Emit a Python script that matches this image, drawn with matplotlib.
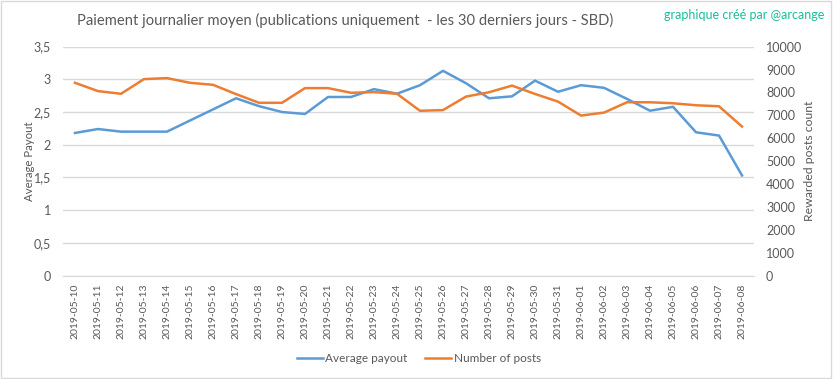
import matplotlib
matplotlib.use("Agg")
import matplotlib.pyplot as plt
from matplotlib.ticker import FuncFormatter, FixedLocator
from matplotlib.lines import Line2D

dates = ["2019-05-10", "2019-05-11", "2019-05-12", "2019-05-13", "2019-05-14",
         "2019-05-15", "2019-05-16", "2019-05-17", "2019-05-18", "2019-05-19",
         "2019-05-20", "2019-05-21", "2019-05-22", "2019-05-23", "2019-05-24",
         "2019-05-25", "2019-05-26", "2019-05-27", "2019-05-28", "2019-05-29",
         "2019-05-30", "2019-05-31", "2019-06-01", "2019-06-02", "2019-06-03",
         "2019-06-04", "2019-06-05", "2019-06-06", "2019-06-07", "2019-06-08"]

avg_payout = [2.18, 2.24, 2.20, 2.20, 2.20, 2.37, 2.54, 2.71, 2.59, 2.50,
              2.47, 2.73, 2.73, 2.85, 2.78, 2.91, 3.13, 2.94, 2.71, 2.74,
              2.98, 2.81, 2.91, 2.87, 2.70, 2.52, 2.58, 2.19, 2.14, 1.53]

num_posts = [8419, 8057, 7939, 8581, 8624, 8419, 8332, 7926, 7546, 7546,
             8188, 8188, 7983, 8013, 7939, 7197, 7227, 7817, 8006, 8297,
             7933, 7598, 6987, 7118, 7569, 7569, 7525, 7438, 7394, 6507]

left_ticks = [0, 0.5, 1, 1.5, 2, 2.5, 3, 3.5]
right_ticks = [0, 1000, 2000, 3000, 4000, 5000, 6000, 7000, 8000, 9000, 10000]

BLUE = "#5B9BD5"
ORANGE = "#ED7D31"
TXT = "#595959"
GRID = "#D9D9D9"

plt.rcParams['font.family'] = ['Lato', 'DejaVu Sans']

fig = plt.figure(figsize=(8.33, 3.79), dpi=100)
fig.patch.set_facecolor("white")
ax = fig.add_axes([0.0762, 0.273, 0.8284, 0.604])
ax2 = ax.twinx()

x = list(range(len(dates)))
ax.plot(x, avg_payout, color=BLUE, lw=1.8, solid_joinstyle="round", zorder=3)
ax2.plot(x, num_posts, color=ORANGE, lw=1.8, solid_joinstyle="round", zorder=3)

ax.set_xlim(-0.5, len(dates) - 0.5)
ax.set_ylim(0, 3.5)
ax2.set_ylim(0, 10000)
ax.yaxis.set_major_locator(FixedLocator(left_ticks))
ax2.yaxis.set_major_locator(FixedLocator(right_ticks))
ax.yaxis.set_major_formatter(FuncFormatter(lambda v, p: ("%g" % v).replace(".", ",")))
ax2.yaxis.set_major_formatter(FuncFormatter(lambda v, p: "%d" % v))

ax.set_xticks(x)
ax.set_xticklabels(dates, rotation=90, fontsize=7.5, color=TXT)
ax.grid(axis="y", color=GRID, lw=1)
ax.set_axisbelow(True)
for a in (ax, ax2):
    for s in a.spines.values():
        s.set_visible(False)
    a.tick_params(length=0)
ax.spines["bottom"].set_visible(True)
ax.spines["bottom"].set_color(GRID)
ax.tick_params(axis="y", labelsize=9, labelcolor=TXT, pad=9)
ax.tick_params(axis="x", pad=6)
ax2.tick_params(axis="y", labelsize=9, labelcolor=TXT, pad=9)

ax.set_ylabel("Average Payout", fontsize=8.2, color=TXT, labelpad=-1)
ax2.set_ylabel("Rewarded posts count", fontsize=8.8, color=TXT, labelpad=1)

fig.text(0.414, 0.946, "Paiement journalier moyen (publications uniquement  - les 30 derniers jours - SBD)",
         ha="center", va="center", fontsize=10.6, color=TXT)
fig.text(0.99, 0.96, "graphique créé par @arcange", ha="right", va="center",
         fontsize=9, color="#1ABC9C")

handles = [Line2D([0], [0], color=BLUE, lw=1.8), Line2D([0], [0], color=ORANGE, lw=1.8)]
fig.legend(handles, ["Average payout", "Number of posts"], loc="center",
           bbox_to_anchor=(0.503, 0.055), ncol=2, frameon=False, fontsize=8.5,
           labelcolor=TXT, handlelength=2.2, handletextpad=0.25, columnspacing=1.5)

fig.add_artist(plt.Rectangle((0.001, 0.002), 0.997, 0.996, transform=fig.transFigure,
                             fill=False, edgecolor=GRID, lw=1))

fig.savefig("out.png", dpi=100, facecolor="white")
